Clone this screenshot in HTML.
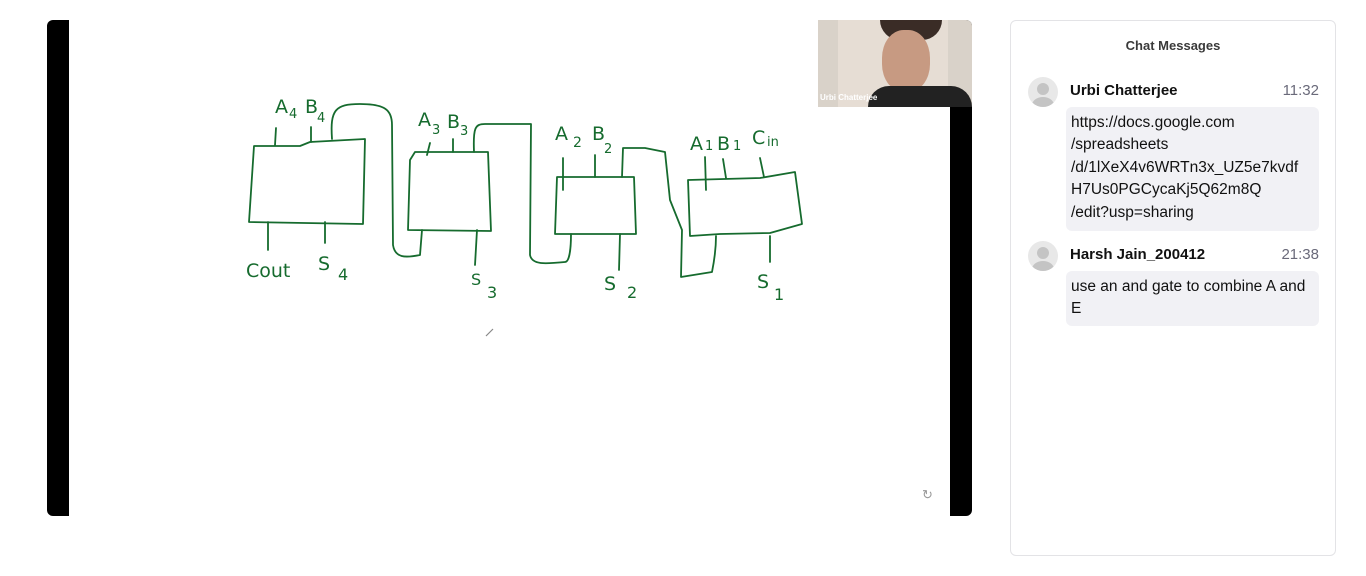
<!DOCTYPE html>
<html><head><meta charset="utf-8"><style>
body{margin:0;width:1366px;height:576px;background:#fff;font-family:"Liberation Sans",sans-serif;position:relative;overflow:hidden}
#stage{position:absolute;left:47px;top:20px;width:925px;height:496px;background:#000;border-radius:6px;overflow:hidden}
#board{position:absolute;left:22px;top:0;width:881px;height:496px;background:#fff}
#cam{position:absolute;left:771px;top:0;width:154px;height:87px;background:#d9d2c9;overflow:hidden}
#chat{position:absolute;left:1010px;top:20px;width:324px;height:534px;border:1px solid #e3e3e6;border-radius:6px;background:#fff}
.title{position:absolute;top:17px;width:100%;text-align:center;font-size:13px;font-weight:bold;color:#3a3a3a}
.av{position:absolute;left:17px;width:30px;height:30px;border-radius:50%;background:#e8e8e8;overflow:hidden}
.av:before{content:"";position:absolute;left:9px;top:6px;width:12px;height:12px;border-radius:50%;background:#c4c4c4}
.av:after{content:"";position:absolute;left:4px;top:20px;width:22px;height:16px;border-radius:50%;background:#c4c4c4}
.name{position:absolute;left:59px;font-size:15px;font-weight:bold;color:#111}
.time{position:absolute;right:16px;font-size:15px;color:#6a6a7a}
.bub{position:absolute;left:55px;width:253px;background:#f1f1f5;border-radius:6px;padding:5px 4px 5px 5px;font-size:15.5px;line-height:22.4px;color:#111;box-sizing:border-box;white-space:nowrap}
</style></head><body>
<div id="stage">
 <div id="board">
  <svg width="881" height="496" viewBox="69 20 881 496">
   <g fill="none" stroke="#166b2e" stroke-width="1.8" stroke-linecap="round" stroke-linejoin="round">
    <path d="M254 146 L300 146 L310 142 L365 139 L363 224 L249 222 Z"/>
    <path d="M275 145 L276 128 M311 142 L311 127 M332 139 C330 110 335 104 360 104 C385 104 392 110 392 125 L393 245 C395 258 405 258 420 255 L422 230"/>
    <path d="M268 222 L268 250 M325 222 L325 243"/>
    <path d="M415 152 L488 152 L491 231 L408 230 L410 160 Z"/>
    <path d="M427 155 L430 143 M453 152 L453 139 M474 152 C473 128 475 124 485 124 L531 124 L530 255 C532 265 545 264 565 262 C570 262 571 245 571 234"/>
    <path d="M477 230 L475 265"/>
    <path d="M557 177 L634 177 L636 234 L555 234 Z"/>
    <path d="M563 190 L563 158 M595 177 L595 155 M622 177 L623 148 L645 148 L665 152 L670 200 L682 230 L681 277 L712 272 C714 262 716 250 716 236"/>
    <path d="M620 234 L619 270"/>
    <path d="M688 180 L760 178 L795 172 L802 224 L770 233 L720 234 L690 236 Z"/>
    <path d="M706 190 L705 157 M726 178 L723 159 M764 177 L760 158 M770 236 L770 262"/>
   </g>
   <g fill="#166b2e" font-family="'DejaVu Sans',sans-serif" font-size="19">
    <text x="275" y="113">A</text><text x="289" y="118" font-size="13">4</text><text x="305" y="113">B</text><text x="317" y="122" font-size="13">4</text>
    <text x="418" y="126">A</text><text x="432" y="134" font-size="13">3</text><text x="447" y="128">B</text><text x="460" y="135" font-size="13">3</text>
    <text x="555" y="140">A</text><text x="573" y="147" font-size="14">2</text><text x="592" y="140">B</text><text x="604" y="153" font-size="13">2</text>
    <text x="690" y="150">A</text><text x="705" y="150" font-size="13">1</text><text x="717" y="150">B</text><text x="733" y="150" font-size="13">1</text><text x="752" y="144">C</text><text x="767" y="146" font-size="13">in</text>
    <text x="246" y="277">Cout</text><text x="318" y="270">S</text><text x="338" y="280" font-size="16">4</text>
    <text x="471" y="285" font-size="16">S</text><text x="487" y="298" font-size="16">3</text>
    <text x="604" y="290">S</text><text x="627" y="298" font-size="16">2</text>
    <text x="757" y="288">S</text><text x="774" y="300" font-size="16">1</text>
   </g>
   <path d="M486 336 L493 329" stroke="#888" stroke-width="1.2"/>
   <text x="922" y="499" font-size="13" fill="#999">↻</text>
  </svg>
 </div>
 <div id="cam">
  <div style="position:absolute;left:20px;top:0;width:110px;height:87px;background:#e6ddd4"></div>
  <div style="position:absolute;left:62px;top:0;width:62px;height:20px;background:#3a2c26;border-radius:0 0 30px 30px"></div>
  <div style="position:absolute;left:64px;top:10px;width:48px;height:62px;background:#c79a82;border-radius:45%"></div>
  <div style="position:absolute;left:50px;top:66px;width:104px;height:21px;background:#222;border-radius:30px 30px 0 0"></div>
  <div style="position:absolute;left:2px;top:73px;font-size:8px;font-weight:bold;color:#fff">Urbi Chatterjee</div>
 </div>
</div>
<div id="chat">
 <div class="title">Chat Messages</div>
 <div class="av" style="top:56px"></div>
 <div class="name" style="top:61px">Urbi Chatterjee</div>
 <div class="time" style="top:61px">11:32</div>
 <div class="bub" style="top:86px;height:124px">https://docs.google.com<br>/spreadsheets<br>/d/1lXeX4v6WRTn3x_UZ5e7kvdf<br>H7Us0PGCycaKj5Q62m8Q<br>/edit?usp=sharing</div>
 <div class="av" style="top:220px"></div>
 <div class="name" style="top:225px">Harsh Jain_200412</div>
 <div class="time" style="top:225px">21:38</div>
 <div class="bub" style="top:250px;height:55px">use an and gate to combine A and<br>E</div>
</div>
</body></html>
